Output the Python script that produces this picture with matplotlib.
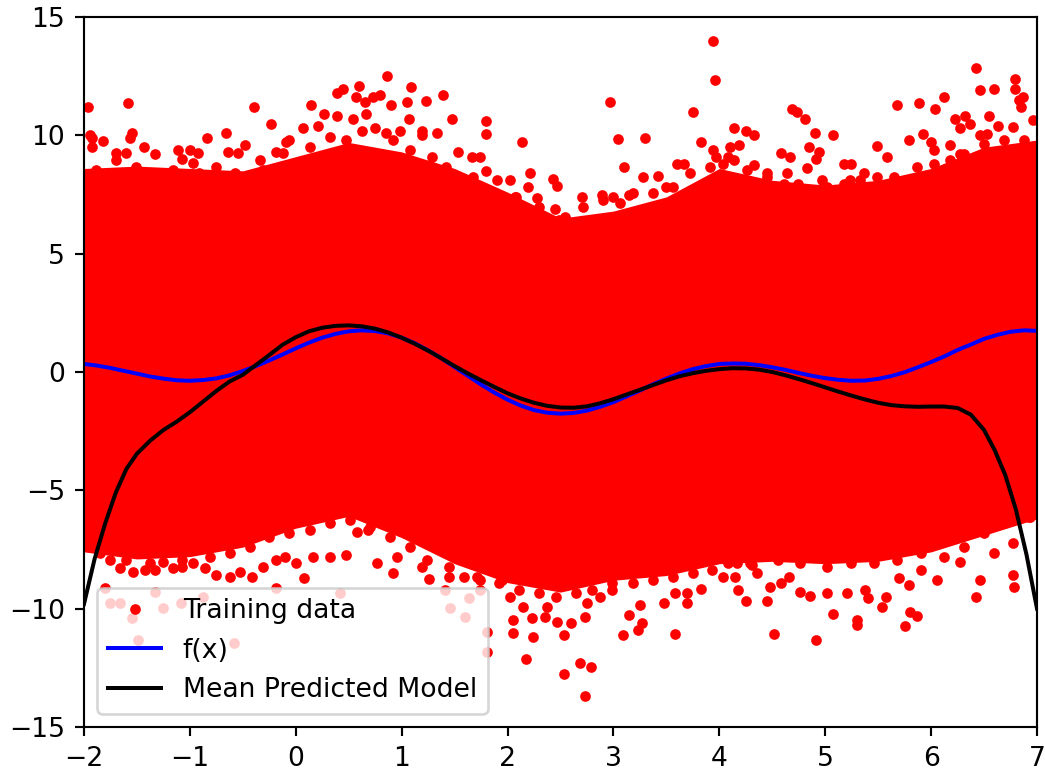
import matplotlib.pyplot as plt

# f(x), blue
f_x = [-2.0, -1.875, -1.75, -1.625, -1.5, -1.375, -1.25, -1.125, -1.0, -0.875, -0.75, -0.625,
       -0.5, -0.375, -0.25, -0.125, 0.0, 0.125, 0.25, 0.375, 0.5, 0.625, 0.75, 0.875,
       1.0, 1.125, 1.25, 1.375, 1.5, 1.625, 1.75, 1.875, 2.0, 2.125, 2.25, 2.375,
       2.5, 2.625, 2.75, 2.875, 3.0, 3.125, 3.25, 3.375, 3.5, 3.625, 3.75, 3.875,
       4.0, 4.125, 4.25, 4.375, 4.5, 4.625, 4.75, 4.875, 5.0, 5.125, 5.25, 5.375,
       5.5, 5.625, 5.75, 5.875, 6.0, 6.125, 6.25, 6.375, 6.5, 6.625, 6.75, 6.875, 7.0]
f_y = [0.34, 0.27, 0.17, 0.05, -0.07, -0.19, -0.28, -0.35, -0.37, -0.34, -0.27, -0.14,
       0.04, 0.25, 0.49, 0.74, 1.00, 1.24, 1.45, 1.61, 1.72, 1.76, 1.73, 1.63,
       1.45, 1.21, 0.91, 0.58, 0.21, -0.16, -0.53, -0.87, -1.17, -1.42, -1.61, -1.72,
       -1.76, -1.73, -1.63, -1.47, -1.27, -1.03, -0.78, -0.52, -0.28, -0.06, 0.12, 0.25,
       0.34, 0.36, 0.35, 0.29, 0.20, 0.09, -0.04, -0.16, -0.26, -0.33, -0.37, -0.36,
       -0.29, -0.17, -0.01, 0.20, 0.42, 0.66, 0.93, 1.16, 1.40, 1.57, 1.70, 1.76, 1.74]

# mean predicted model, black
mean_x = [-2.0, -1.9, -1.8, -1.7, -1.6, -1.5, -1.375, -1.25, -1.125, -1.0, -0.875, -0.75, -0.625,
          -0.5, -0.375, -0.25, -0.125, 0.0, 0.125, 0.25, 0.375, 0.5, 0.625, 0.75, 0.875,
          1.0, 1.125, 1.25, 1.375, 1.5, 1.625, 1.75, 1.875, 2.0, 2.125, 2.25, 2.375,
          2.5, 2.625, 2.75, 2.875, 3.0, 3.125, 3.25, 3.375, 3.5, 3.625, 3.75, 3.875,
          4.0, 4.125, 4.25, 4.375, 4.5, 4.625, 4.75, 4.875, 5.0, 5.125, 5.25, 5.375,
          5.5, 5.625, 5.75, 5.875, 6.0, 6.125, 6.25, 6.375, 6.5, 6.6, 6.7, 6.8, 6.9, 7.0]
mean_y = [-9.8, -7.9, -6.4, -5.1, -4.1, -3.45, -2.9, -2.45, -2.1, -1.7, -1.25, -0.8, -0.4,
          -0.12, 0.3, 0.72, 1.15, 1.47, 1.72, 1.87, 1.95, 1.97, 1.93, 1.83, 1.67,
          1.45, 1.19, 0.9, 0.58, 0.25, -0.06, -0.35, -0.63, -0.9, -1.12, -1.3, -1.43,
          -1.5, -1.51, -1.45, -1.32, -1.15, -0.95, -0.75, -0.55, -0.35, -0.18, -0.05, 0.05,
          0.12, 0.16, 0.15, 0.1, 0.0, -0.14, -0.3, -0.47, -0.65, -0.83, -1.0, -1.16,
          -1.3, -1.4, -1.45, -1.47, -1.46, -1.46, -1.52, -1.8, -2.45, -3.3, -4.35, -5.8, -7.7, -10.0]

# dense part of the training cloud (upper / lower edge of the solid band)
band_x = [-2.0, -1.5, -1.0, -0.5, 0.0, 0.5, 1.0, 1.5, 2.0, 2.5, 3.0, 3.5, 4.0, 4.5, 5.0, 5.5, 6.0, 6.5, 7.0]
band_hi = [8.6, 8.7, 8.6, 8.5, 9.1, 9.7, 9.3, 8.6, 7.6, 6.5, 6.8, 7.4, 8.6, 8.1, 7.9, 8.1, 8.6, 9.5, 9.8]
band_lo = [-7.6, -7.9, -7.8, -7.4, -6.6, -6.1, -7.0, -8.1, -8.9, -9.3, -8.8, -8.6, -8.1, -8.0, -8.1, -8.0, -7.6, -6.9, -6.2]

# training points along the ragged edges of the band
edge_x = [-1.89, -1.7, -1.51, -1.28, -1.16, -0.97, -0.91, -0.75, -0.57, -0.34, -0.31, -0.12, -0.06,
          0.13, 0.32, 0.47, 0.63, 0.92, -1.94, -1.77, -1.44, -1.09, -0.69,
          1.08, 1.29, 1.42, 1.67, 1.9, 2.08, 2.3, 2.49, 2.71, 2.9, 3.06, 3.18, 3.37, 3.56, 3.72,
          3.91, 3.97, 4.08, 4.26, 4.45, 4.61, 4.76, 5.02, 5.18, 5.33, 5.49, 5.65, 5.87, 6.03, 6.18,
          6.31, 6.5, 6.69, 6.88,
          -1.85, -1.6, -1.38, -1.07, -0.81, -0.62, -0.43, -0.25, -0.06, 0.13, 0.32, 0.51, 0.7, 0.89,
          1.08, 1.24, 1.45, 1.71, 1.92, 2.11, 2.3, 2.46, 2.65, 2.8, 2.99, 3.18, 3.37, 3.56, 3.75,
          3.93, 4.08, 4.29, 4.55, 4.76, 5.02, 5.24, 5.46, 5.68, 5.9, 6.12, 6.31, 6.5, 6.69, 6.93]
edge_y = [8.54, 8.96, 8.66, 8.24, 8.54, 8.83, 8.41, 8.66, 8.41, 8.96, 8.54, 9.25, 9.8,
          9.5, 9.93, 9.8, 10.2, 9.8, 8.1, 8.0, 8.1, 8.1, 7.8,
          9.4, 9.1, 8.66, 8.24, 8.1, 7.4, 6.97, 6.42, 6.97, 7.27, 7.14, 7.56, 7.56, 7.8, 8.41,
          8.66, 9.1, 9.1, 8.54, 8.24, 7.95, 7.7, 7.8, 7.95, 8.1, 8.24, 8.24, 8.66, 8.79, 8.96,
          9.2, 9.63, 9.8, 9.8,
          -7.64, -7.94, -8.07, -7.94, -7.82, -7.64, -7.39, -6.97, -6.8, -6.67, -6.38, -6.25, -6.55, -6.97,
          -7.39, -7.94, -8.24, -8.66, -8.91, -9.2, -9.33, -9.5, -9.33, -9.2, -8.91, -8.91, -8.79, -8.66, -8.49,
          -8.36, -8.07, -8.07, -7.94, -8.07, -8.24, -8.07, -8.07, -7.94, -7.64, -7.82, -7.39, -6.8, -6.38, -6.12]

# scattered training points above the band
top_x = [-1.96, -1.58, -0.39, 0.86, 0.6, 0.39, 0.45, 0.14, 0.27, 0.39, -0.23, 0.07, 0.21, 0.57, 0.65,
         0.73, 0.8, 0.9, 0.54, 0.66, -1.92, -1.94, -1.82, -1.92, -1.55, -1.57, -1.43, -1.7, -1.6,
         -1.33, -1.11, -1.0, -0.84, -0.66, -0.48, -0.64, -0.55, -1.07, -0.92, -0.19, -0.09, 0.75,
         0.85, 0.98, 1.09, 1.05, 1.23, 1.39, 1.07, 1.48, 1.19, 1.19, 1.33, 1.8, 1.8, 2.14, 2.97,
         3.04, 3.3, 3.75, 3.94, 3.96, 3.1, 2.21, 2.19, 2.43, 2.47, 2.02, 1.53, 1.66, 1.74, 1.8,
         3.28, 3.42, 3.5, 3.6, 3.67, 3.83, 3.94, 2.07, 2.28, 2.45, 2.7, 2.89, 3.0, 3.15, 2.54,
         6.42, 6.79, 6.46, 6.59, 6.79, 6.83, 6.87, 5.68, 5.89, 6.12, 6.04, 4.69, 4.73, 4.81, 4.9,
         5.07, 4.14, 4.25, 4.33, 4.1, 4.19, 4.58, 4.67, 4.85, 4.94, 4.91, 5.49, 5.58, 5.18, 5.24,
         5.79, 5.92, 6.0, 6.03, 6.23, 6.32, 6.37, 6.27, 6.55, 6.63, 6.77, 6.96, 6.85, 6.46, 6.53,
         6.18, 6.27, 5.37, 5.23, 4.64, 4.74, 4.83, 4.97, 4.45, 4.33, 4.03, 4.14]
top_y = [11.2, 11.37, 11.2, 12.5, 12.1, 11.8, 11.96, 11.3, 10.9, 10.8, 10.5, 10.3, 10.4, 11.6, 11.4,
         11.6, 11.7, 11.3, 10.7, 10.9, 9.9, 10.0, 9.75, 9.5, 10.1, 9.9, 9.5, 9.25, 9.25,
         9.2, 9.4, 9.4, 9.9, 10.1, 9.6, 9.3, 9.25, 9.0, 9.25, 9.3, 9.7, 10.3,
         10.1, 10.2, 12.04, 11.4, 11.45, 11.7, 10.7, 10.7, 10.2, 10.0, 10.1, 10.6, 10.05, 9.7, 11.4,
         9.85, 9.9, 11.0, 14.0, 12.35, 8.66, 8.4, 7.8, 8.15, 7.86, 8.1, 9.3, 9.1, 9.1, 8.5,
         8.25, 8.3, 7.8, 8.8, 8.8, 9.7, 9.4, 7.4, 7.35, 6.9, 7.4, 7.5, 7.4, 7.5, 6.55,
         12.85, 12.4, 11.9, 11.96, 11.96, 11.5, 11.6, 11.3, 11.37, 11.6, 11.1, 11.1, 11.0, 10.7, 10.1,
         10.0, 10.3, 10.2, 10.0, 9.5, 9.6, 9.25, 9.1, 9.5, 9.3, 9.0, 9.55, 9.1, 8.8, 8.8,
         9.8, 10.05, 9.7, 9.4, 10.7, 10.8, 10.5, 10.3, 10.8, 10.4, 10.35, 10.65, 11.2, 10.0, 10.05,
         9.6, 9.2, 8.4, 8.1, 8.4, 7.95, 8.6, 8.1, 8.4, 8.75, 8.8, 8.96]

# scattered training points below the band
bot_x = [-1.75, -1.66, -1.54, -1.42, -1.33, -1.25, -1.16, -1.07, -0.97, -0.86, -0.75, -0.62, -0.53,
         -0.41, -0.31, -0.19, -0.1, 0.0, 0.08, 0.16, 0.32, 0.47, 0.58, 0.68, 0.77, 0.92, 0.96,
         -1.8, -1.75, -1.66, -1.55, -1.33, -1.25, -1.08, -0.88, -0.58, -0.19, 0.42, 1.41, 1.46,
         1.64, 1.6, 1.81, 1.81, 1.74, -1.49,
         1.26, 1.45, 1.59, 1.74, 1.19, 1.95, 2.02, 2.05, 2.05, 2.15, 2.23, 2.24, 2.17, 2.35, 2.47,
         2.53, 2.53, 2.68, 2.79, 2.73, 2.6, 2.73, 2.87, 3.09, 3.15, 3.25, 3.27, 3.23, 3.48, 3.58,
         3.69, 3.69, 3.83, 3.58, 2.99, 2.75, 2.37,
         4.03, 4.15, 4.18, 4.25, 4.45, 4.52, 4.36, 4.48, 4.58, 4.76, 4.86, 5.02, 5.07, 4.91, 5.21,
         5.3, 5.3, 5.38, 5.4, 5.54, 5.57, 5.75, 5.8, 5.87, 5.79, 6.06, 6.42, 6.46, 6.59, 6.77,
         6.78, 6.77, 6.92, 4.17, 4.31, 4.66, 5.7, 5.9, 6.27]
bot_y = [-7.94, -8.28, -8.45, -8.36, -8.36, -8.03, -8.28, -8.24, -8.07, -8.28, -8.57, -8.66, -8.45,
         -8.66, -8.24, -7.94, -7.82, -8.07, -8.7, -7.82, -7.82, -7.73, -6.76, -6.67, -8.07, -8.49, -7.82,
         -9.12, -9.76, -9.76, -10.39, -9.29, -9.97, -9.76, -9.5, -11.45, -9.12, -9.33, -9.2, -9.97,
         -9.55, -10.35, -10.98, -11.83, -9.2, -11.32,
         -8.74, -8.66, -8.66, -8.79, -8.24, -8.79, -9.5, -10.48, -11.02, -9.93, -10.39, -11.19, -12.12,
         -10.35, -10.56, -11.11, -12.76, -12.29, -12.46, -13.69, -10.6, -10.35, -9.5, -11.11, -10.26,
         -9.84, -10.6, -10.9, -9.76, -9.33, -9.33, -9.76, -9.16, -11.07, -9.2, -9.76, -9.93,
         -8.66, -8.66, -9.2, -9.67, -9.67, -11.07, -8.49, -9.08, -8.91, -9.29, -9.46, -9.33, -10.22,
         -11.32, -9.33, -10.48, -10.69, -9.2, -9.55, -9.93, -9.5, -10.73, -10.14, -10.31, -9.0, -8.79,
         -9.5, -8.79, -7.64, -8.57, -9.08, -7.22, -6.12, -8.07, -8.15, -8.66, -8.7, -8.36, -8.03]

fig = plt.figure(figsize=(1045 / 192, 772 / 192), dpi=192)
ax = fig.add_axes([84 / 1045, 45 / 772, 953 / 1045, 710 / 772])

ax.fill_between(band_x, band_lo, band_hi, color='red', lw=0)
ax.plot(edge_x + top_x + bot_x, edge_y + top_y + bot_y, 'r.', label='Training data')
ax.plot(f_x, f_y, color='blue', label='f(x)')
ax.plot(mean_x, mean_y, color='black', label='Mean Predicted Model')

ax.set_xlim(-2, 7)
ax.set_ylim(-15, 15)
ax.set_xticks(range(-2, 8))
ax.set_yticks([-15, -10, -5, 0, 5, 10, 15])
ax.legend(loc='lower left')

fig.savefig('out.png', dpi=192)
